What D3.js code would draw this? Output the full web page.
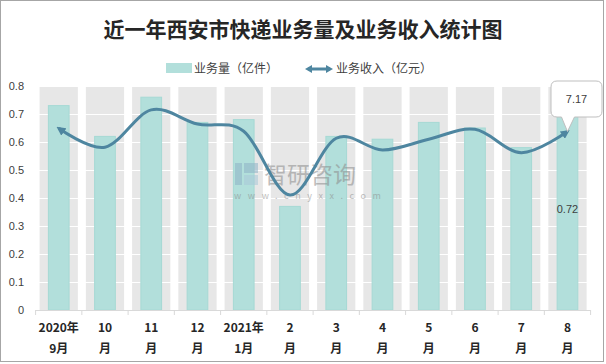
<!DOCTYPE html>
<html><head><meta charset="utf-8">
<script src="https://cdn.jsdelivr.net/npm/d3@7/dist/d3.min.js"></script>
<style>
html,body{margin:0;padding:0;background:#fff;}
svg{display:block;font-family:"Noto Sans CJK SC","Noto Sans",sans-serif;}
</style></head>
<body><svg id="c" width="606" height="364"></svg>
<script>
const categories = ["2020年9月","10月","11月","12月","2021年1月","2月","3月","4月","5月","6月","7月","8月"];
const tickLine1 = ["2020年","10","11","12","2021年","2","3","4","5","6","7","8"];
const tickLine2 = ["9月","月","月","月","1月","月","月","月","月","月","月","月"];
const volume = [0.73,0.62,0.76,0.67,0.68,0.37,0.62,0.61,0.67,0.65,0.58,0.72];
const revenue = [7.30,6.54,8.04,7.47,7.18,4.62,6.90,6.43,6.86,7.26,6.32,7.17];
const yTicks = [0,0.1,0.2,0.3,0.4,0.5,0.6,0.7,0.8];

const svg = d3.select("#c");
const x = d3.scaleBand().domain(categories).range([35.6, 590.6]).paddingInner(0).paddingOuter(0);
const y = d3.scaleLinear().domain([0, 0.8]).range([310, 86]);
const y2 = d3.scaleLinear().domain([0, 9]).range([310, 86]);

// outer border
svg.append("rect").attr("x",0.5).attr("y",0.5).attr("width",603).attr("height",361)
  .attr("fill","#fff").attr("stroke","#a6a6a6").attr("stroke-width",1);

// title
svg.append("text").attr("x",303).attr("y",37).attr("text-anchor","middle")
  .attr("font-size",21).attr("font-weight","bold").attr("fill","#262626")
  .text("近一年西安市快递业务量及业务收入统计图");

// legend
const lg = svg.append("g");
lg.append("rect").attr("x",166).attr("y",63).attr("width",26).attr("height",10).attr("fill","#b2dfdb");
lg.append("text").attr("x",194).attr("y",73).attr("font-size",12).attr("fill","#404040").text("业务量（亿件）");
lg.append("line").attr("x1",308).attr("x2",330).attr("y1",69).attr("y2",69).attr("stroke","#4e86a0").attr("stroke-width",3);
lg.append("path").attr("d","M305,69 L312,65 L312,73 Z").attr("fill","#4e86a0");
lg.append("path").attr("d","M333,69 L326,65 L326,73 Z").attr("fill","#4e86a0");
lg.append("text").attr("x",336).attr("y",73).attr("font-size",12).attr("fill","#404040").text("业务收入（亿元）");

// gray columns
const inset = 4;
svg.append("g").selectAll("rect").data(categories).join("rect")
  .attr("x", d => x(d) + inset).attr("width", x.bandwidth() - 2*inset)
  .attr("y", y(0.8)).attr("height", y(0) - y(0.8)).attr("fill","#e7e7e7");

// white gridlines
svg.append("g").selectAll("line").data(yTicks.filter(t => t > 0)).join("line")
  .attr("x1", 35.6).attr("x2", 590.6).attr("y1", d => y(d)+0.5).attr("y2", d => y(d)+0.5)
  .attr("stroke","#fff").attr("stroke-width",1);

// bars
const bw = 20.7;
svg.append("g").selectAll("rect").data(volume).join("rect")
  .attr("x", (d,i) => x(categories[i]) + x.bandwidth()/2 - bw/2)
  .attr("width", bw)
  .attr("y", d => y(d)).attr("height", d => y(0) - y(d))
  .attr("fill","#b2dfdb").attr("stroke","#a6d9d4").attr("stroke-width",1);

// y axis
const yAxis = d3.axisLeft(y).tickValues(yTicks).tickSize(0).tickPadding(0)
  .tickFormat(d => d === 0 ? "0" : d3.format(".1f")(d));
const ya = svg.append("g").attr("transform","translate(24,0)").call(yAxis);
ya.select(".domain").remove();
ya.selectAll("text").attr("font-size",11).attr("fill","#404040")
  .attr("font-family","'Liberation Sans',Arial,sans-serif");

// x axis
const xAxis = d3.axisBottom(x).tickSize(5).tickSizeOuter(0).tickFormat("");
const xa = svg.append("g").attr("transform","translate(0,310)").call(xAxis);
xa.select(".domain").attr("stroke","#d9d9d9");
xa.selectAll(".tick").remove();
const bounds = categories.map(c => x(c)).concat([x(categories[categories.length-1]) + x.bandwidth()]);
xa.selectAll("line.bt").data(bounds).join("line").attr("class","bt")
  .attr("x1", d => d).attr("x2", d => d).attr("y1",0).attr("y2",5).attr("stroke","#d9d9d9");
xa.select(".domain").attr("d", `M${bounds[0]},0.5H${bounds[bounds.length-1]}`);
const xl = svg.append("g");
categories.forEach((c,i) => {
  const cx = x(c) + x.bandwidth()/2;
  const t = xl.append("text").attr("text-anchor","middle").attr("font-size",12)
    .attr("font-weight","bold").attr("fill","#262626");
  t.append("tspan").attr("x", cx).attr("y", 332).text(tickLine1[i]);
  t.append("tspan").attr("x", cx).attr("y", 353).text(tickLine2[i]);
});

// watermark
const wm = svg.append("g").attr("opacity",0.55);
wm.append("rect").attr("x",235).attr("y",163).attr("width",7).attr("height",22).attr("fill","#8fb3c7");
wm.append("rect").attr("x",244).attr("y",163).attr("width",14).attr("height",10).attr("fill","#8fb3c7");
wm.append("rect").attr("x",244).attr("y",175).attr("width",14).attr("height",10).attr("fill","#a9c9d8");
wm.append("text").attr("x",264).attr("y",183).attr("font-size",23).attr("fill","#8c8c8c").text("智研咨询");
wm.append("text").attr("x",234).attr("y",199).attr("font-size",9).attr("fill","#8c8c8c")
  .attr("letter-spacing","6.6").text("www.chyxx.com");

// line
const color = "#4e86a0";
const defs = svg.append("defs");
defs.append("marker").attr("id","arrEnd").attr("viewBox","0 0 10 10").attr("refX",7).attr("refY",5)
  .attr("markerWidth",3).attr("markerHeight",3).attr("orient","auto")
  .append("path").attr("d","M0,0 L10,5 L0,10 Z").attr("fill",color);
defs.append("marker").attr("id","arrStart").attr("viewBox","0 0 10 10").attr("refX",3).attr("refY",5)
  .attr("markerWidth",3).attr("markerHeight",3).attr("orient","auto")
  .append("path").attr("d","M10,0 L0,5 L10,10 Z").attr("fill",color);
const line = d3.line()
  .x((d,i) => x(categories[i]) + x.bandwidth()/2)
  .y(d => y2(d))
  .curve(d3.curveCardinal.tension(0));
svg.append("path").datum(revenue).attr("d", line).attr("fill","none")
  .attr("stroke", color).attr("stroke-width",3)
  .attr("marker-start","url(#arrStart)").attr("marker-end","url(#arrEnd)");

// data label for last bar
const li = categories.length - 1;
const lx = x(categories[li]) + x.bandwidth()/2;
svg.append("text").attr("x", lx).attr("y", (y(volume[li]) + y(0))/2 + 4)
  .attr("text-anchor","middle").attr("font-size",11).attr("fill","#404040")
  .attr("font-family","'Liberation Sans',Arial,sans-serif").text(d3.format(".2f")(volume[li]));

// callout for last revenue
const py = y2(revenue[li]);
const cx0 = 551, cx1 = 602, cy0 = 81, cy1 = 117, r = 6;
const callout = `M${cx0+r},${cy0} H${cx1-r} Q${cx1},${cy0} ${cx1},${cy0+r} V${cy1-r} Q${cx1},${cy1} ${cx1-r},${cy1}
 H${lx+7} L${lx},${py} L${lx-6},${cy1} H${cx0+r} Q${cx0},${cy1} ${cx0},${cy1-r} V${cy0+r} Q${cx0},${cy0} ${cx0+r},${cy0} Z`;
svg.append("path").attr("d", callout).attr("fill","#fff").attr("stroke","#bfbfbf").attr("stroke-width",1);
svg.append("text").attr("x",(cx0+cx1)/2).attr("y",103).attr("text-anchor","middle")
  .attr("font-size",11).attr("fill","#404040").attr("font-family","'Liberation Sans',Arial,sans-serif")
  .text(d3.format(".2f")(revenue[li]));
</script></body></html>
